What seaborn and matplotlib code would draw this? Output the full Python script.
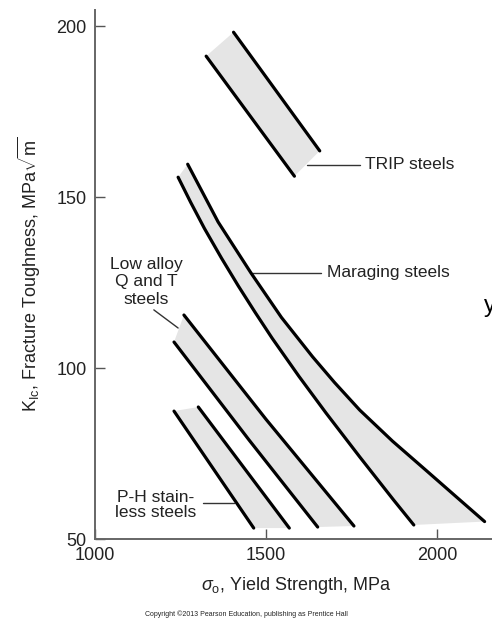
import numpy as np
import pandas as pd
import matplotlib
matplotlib.use("Agg")
import matplotlib.pyplot as plt
import seaborn as sns

# -------------------------
# Band edges (yield strength MPa, K_Ic MPa*sqrt(m))
# -------------------------
trip_lo_x = [1325, 1583]
trip_lo_y = [191.2, 156.1]
trip_hi_x = [1405, 1657]
trip_hi_y = [198.2, 163.5]

mar_lo_x = [1243, 1280, 1320, 1370, 1419, 1468, 1518, 1596, 1675, 1774, 1873, 1932]
mar_lo_y = [155.8, 148.4, 140.8, 132.1, 124.0, 116.3, 108.7, 97.6, 86.9, 74.0, 61.4, 54.1]
mar_hi_x = [1271, 1360, 1456, 1545, 1636, 1700, 1774, 1870, 1971, 2060, 2139]
mar_hi_y = [159.6, 142.7, 127.8, 114.8, 103.3, 95.8, 87.7, 78.6, 69.8, 62.0, 55.1]

qt_lo_x = [1231, 1450, 1651]
qt_lo_y = [107.6, 79.0, 53.5]
qt_hi_x = [1260, 1500, 1757]
qt_hi_y = [115.5, 85.0, 53.8]

ph_lo_x = [1231, 1464]
ph_lo_y = [87.4, 53.2]
ph_hi_x = [1302, 1568]
ph_hi_y = [88.6, 53.2]

bands = {
    "TRIP": (trip_lo_x, trip_lo_y, trip_hi_x, trip_hi_y),
    "Maraging": (mar_lo_x, mar_lo_y, mar_hi_x, mar_hi_y),
    "QT": (qt_lo_x, qt_lo_y, qt_hi_x, qt_hi_y),
    "PH": (ph_lo_x, ph_lo_y, ph_hi_x, ph_hi_y),
}

x_ticks = [1000, 1500, 2000]
y_ticks = [50, 100, 150, 200]

# -------------------------
# Plot
# -------------------------
sns.set_style("ticks")
plt.rcParams["font.family"] = ["Liberation Sans", "DejaVu Sans"]
plt.rcParams["mathtext.fontset"] = "custom"
plt.rcParams["mathtext.rm"] = "Liberation Sans"
plt.rcParams["mathtext.it"] = "Liberation Sans:italic"

fig = plt.figure(figsize=(4.92, 6.21), dpi=100)
ax = fig.add_axes([95 / 492, 1 - 539 / 621, 1 - 95 / 492 + 0.01, (539 - 10) / 621])

for name, (lx, ly, hx, hy) in bands.items():
    # shaded band = left edge down, right edge back up
    px = list(lx) + list(hx)[::-1]
    py = list(ly) + list(hy)[::-1]
    ax.fill(px, py, color="#e5e5e5", lw=0, zorder=1)
    for xs, ys in ((lx, ly), (hx, hy)):
        df = pd.DataFrame({"x": xs, "y": ys})
        sns.lineplot(data=df, x="x", y="y", sort=False, estimator=None,
                     color="black", lw=2.3, ax=ax, zorder=3,
                     solid_joinstyle="round")

# labels with leader lines
lab = dict(fontsize=12.5, color="#222222")
ax.plot([1621, 1775], [159.4, 159.4], color="#333333", lw=1)
ax.text(1790, 159.4, "TRIP steels", va="center", ha="left", **lab)
ax.plot([1459, 1660], [127.8, 127.8], color="#333333", lw=1)
ax.text(1678, 127.8, "Maraging steels", va="center", ha="left", **lab)
ax.plot([1172, 1243], [117.0, 111.7], color="#333333", lw=1)
ax.text(1151, 125.2, "Low alloy\nQ and T\nsteels", va="center", ha="center",
        linespacing=1.18, **lab)
ax.plot([1317, 1405], [60.5, 60.5], color="#333333", lw=1)
ax.text(1178, 60.0, "P-H stain-\nless steels", va="center", ha="center",
        linespacing=1.02, **lab)

ax.set_xlim(1000, 2175)
ax.set_ylim(50, 204.7)
ax.set_xticks(x_ticks)
ax.set_yticks(y_ticks)
ax.tick_params(direction="in", length=7, width=1, color="#555555",
               labelsize=13, labelcolor="#222222", pad=6)
for s in ("top", "right"):
    ax.spines[s].set_visible(False)
for s in ("left", "bottom"):
    ax.spines[s].set_color("#666666")
    ax.spines[s].set_linewidth(1.4)

ax.set_xlabel(r"$\sigma_{\rm o}$, Yield Strength, MPa", fontsize=13, color="#222222", labelpad=8)
ax.set_ylabel(r"K$_{\rm Ic}$, Fracture Toughness, MPa$\sqrt{\rm m}$", fontsize=13,
              color="#222222", labelpad=10)

fig.text(0.5, 1 - 614 / 621, "Copyright \u00a92013 Pearson Education, publishing as Prentice Hall",
         ha="center", va="center", fontsize=5, color="#222222")
# partial glyph cut at the right edge, as in the source slide
fig.text(484 / 492, 1 - 306 / 621, "y", ha="left", va="center", fontsize=17, color="black")

fig.savefig("out.png", dpi=100)
